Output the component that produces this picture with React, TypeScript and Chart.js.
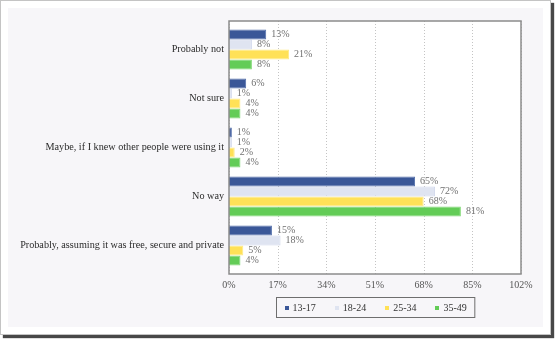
import React, { useEffect, useRef } from "react";
import { Chart, registerables } from "chart.js";

Chart.register(...registerables);

const categories = [
  "Probably not",
  "Not sure",
  "Maybe, if I knew other people were using it",
  "No way",
  "Probably, assuming it was free, secure and private",
];
const seriesNames = ["13-17", "18-24", "25-34", "35-49"];
const s1317 = [13, 6, 1, 65, 15];
const s1824 = [8, 1, 1, 72, 18];
const s2534 = [21, 4, 2, 68, 5];
const s3549 = [8, 4, 4, 81, 4];
const seriesValues = [s1317, s1824, s2534, s3549];
const xTicks = [0, 17, 34, 51, 68, 85, 102];

const fills = ["#3a5798", "#dfe4f1", "#ffe157", "#63cc57"];
const borders = ["#5470ab", "#cfd6ea", "#ffe985", "#7fd873"];
const FONT = "'Liberation Serif', 'Times New Roman', serif";
const INSET = 4;

const framePlugin = {
  id: "frame",
  beforeDatasetsDraw(chart: any) {
    const { ctx, chartArea: a } = chart;
    const top = a.top - INSET;
    const bottom = a.bottom + INSET;
    ctx.save();
    ctx.fillStyle = "#ffffff";
    ctx.fillRect(a.left, top, a.right - a.left, bottom - top);
    // dotted vertical grid lines at the x ticks
    const xs = chart.scales.x;
    ctx.strokeStyle = "#c4c4c4";
    ctx.lineWidth = 1;
    ctx.setLineDash([1, 2]);
    xs.ticks.forEach((t: any) => {
      const px = Math.round(xs.getPixelForValue(t.value)) + 0.5;
      ctx.beginPath();
      ctx.moveTo(px, top);
      ctx.lineTo(px, bottom);
      ctx.stroke();
    });
    ctx.restore();
  },
  afterDatasetsDraw(chart: any) {
    const { ctx, chartArea: a } = chart;
    const top = a.top - INSET;
    const bottom = a.bottom + INSET;
    ctx.save();
    // data labels
    ctx.font = `10px ${FONT}`;
    ctx.fillStyle = "#707070";
    ctx.textBaseline = "middle";
    ctx.textAlign = "left";
    chart.data.datasets.forEach((ds: any, i: number) => {
      const meta = chart.getDatasetMeta(i);
      meta.data.forEach((el: any, j: number) => {
        ctx.fillText(ds.data[j] + "%", el.x + 5, el.y);
      });
    });
    // frame
    ctx.strokeStyle = "#8c8c8c";
    ctx.lineWidth = 1.5;
    ctx.strokeRect(a.left, top, a.right - a.left, bottom - top);
    // legend
    ctx.font = `10px ${FONT}`;
    const marker = 4;
    const gapText = 4;
    const spacing = 19;
    const widths = seriesNames.map((n) => ctx.measureText(n).width);
    const total =
      widths.reduce((s, w) => s + w + marker + gapText, 0) +
      spacing * (seriesNames.length - 1);
    const boxW = total + 16;
    const cx = (a.left + a.right) / 2;
    const boxL = Math.round(cx - boxW / 2) + 0.5;
    const boxT = a.bottom + 27.5;
    const boxH = 20;
    ctx.strokeStyle = "#6e6e6e";
    ctx.lineWidth = 1;
    ctx.strokeRect(boxL, boxT, boxW, boxH);
    let x = boxL + 8;
    const yMid = boxT + boxH / 2;
    seriesNames.forEach((n, i) => {
      ctx.fillStyle = fills[i];
      ctx.fillRect(Math.round(x), Math.round(yMid - marker / 2), marker, marker);
      ctx.fillStyle = "#333333";
      ctx.textAlign = "left";
      ctx.textBaseline = "middle";
      ctx.fillText(n, x + marker + gapText, yMid + 0.5);
      x += marker + gapText + widths[i] + spacing;
    });
    ctx.restore();
  },
};

export default function App() {
  const ref = useRef<HTMLCanvasElement | null>(null);
  useEffect(() => {
    if (!ref.current) return;
    const chart = new Chart(ref.current, {
      type: "bar",
      data: {
        labels: categories,
        datasets: seriesNames.map((name, i) => ({
          label: name,
          data: seriesValues[i],
          backgroundColor: fills[i],
          borderColor: borders[i],
          borderWidth: 1,
          categoryPercentage: 0.82,
          barPercentage: 1.0,
        })),
      },
      options: {
        indexAxis: "y",
        animation: false,
        responsive: false,
        maintainAspectRatio: false,
        layout: { padding: { top: 17, right: 22, left: 0, bottom: 0 } },
        plugins: {
          legend: { display: false },
          tooltip: { enabled: false },
        },
        scales: {
          x: {
            min: 0,
            max: 102,
            afterBuildTicks: (scale: any) => {
              scale.ticks = xTicks.map((v) => ({ value: v }));
            },
            afterFit: (scale: any) => {
              scale.height = 57;
            },
            ticks: {
              padding: 9,
              color: "#555555",
              font: { family: FONT, size: 10 },
              callback: (v: any) => v + "%",
              maxRotation: 0,
            },
            grid: { display: false, drawTicks: false },
            border: { display: false },
          },
          y: {
            afterFit: (scale: any) => {
              scale.width = 221;
            },
            ticks: {
              padding: 5,
              color: "#2a2a2a",
              font: { family: FONT, size: 10.2 },
              autoSkip: false,
            },
            grid: { display: false, drawTicks: false },
            border: { display: false },
          },
        },
      },
      plugins: [framePlugin],
    });
    return () => chart.destroy();
  }, []);

  return (
    <div
      style={{
        position: "fixed",
        left: 0,
        top: 0,
        width: 551,
        height: 335,
        boxSizing: "border-box",
        background: "#ffffff",
        border: "1px solid #c4c4c4",
        boxShadow: "3px 3px 1px rgba(40,40,40,0.85)",
      }}
    >
      <div
        style={{
          position: "absolute",
          left: 7,
          top: 7,
          width: 535,
          height: 319,
          background: "#f7f6f9",
        }}
      >
        <canvas ref={ref} width={535} height={319} style={{ display: "block" }} />
      </div>
    </div>
  );
}
